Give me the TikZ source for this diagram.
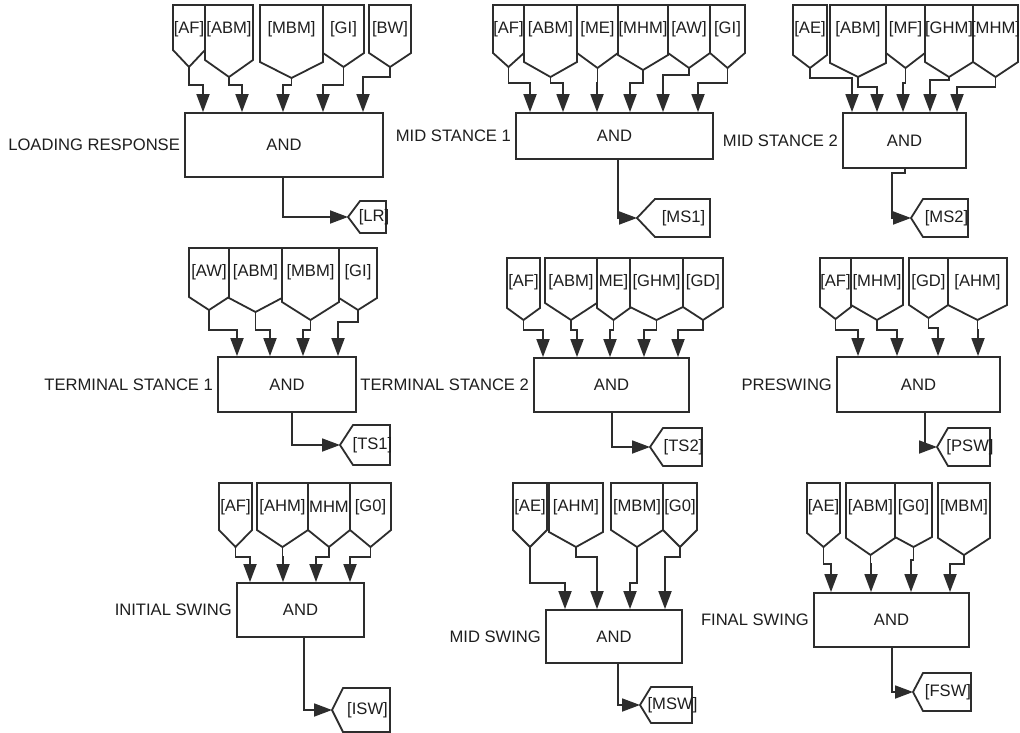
\documentclass[tikz,border=0pt]{standalone}
\usepackage{fontspec}
\setmainfont{Liberation Sans}
\usetikzlibrary{arrows.meta}
\definecolor{ln}{RGB}{45,45,45}
\definecolor{tx}{RGB}{30,30,30}
\tikzset{
  blk/.style={draw=ln, line width=1.8pt, line join=miter},
  lbl/.style={inner sep=0pt, text=tx, font=\fontsize{16.6}{18}\selectfont},
  arr/.style={draw=ln, line width=1.8pt, -{Triangle[length=18pt,width=13pt]}},
  andbox/.style={draw=ln, line width=1.8pt, inner sep=0pt, text=tx, font=\fontsize{16.6}{18}\selectfont},
}
% name, xl, xr, top, sides-bottom, point-y, label
\newcommand\FromBlk[7]{%
  \draw[blk] (#2,#4) -- (#3,#4) -- (#3,#5) -- ({(#2+#3)/2},#6) -- (#2,#5) -- cycle;
  \coordinate (#1) at ({(#2+#3)/2},#6);
  \node[lbl] (#1t) at ({(#2+#3)/2},{#4+24}) {#7};}
% name, point-x, y, vertex-x, right-x, half-height, label
\newcommand\GotoBlk[7]{%
  \draw[blk] (#2,#3) -- (#4,{#3-#6}) -- (#5,{#3-#6}) -- (#5,{#3+#6}) -- (#4,{#3+#6}) -- cycle;
  \coordinate (#1) at (#2,#3);
  \node[lbl] (#1t) at ({(#4+#5)/2+1},#3) {#7};}
% from, jog-y, target-x, box
\newcommand\Inp[4]{\draw[arr] (#1) -- (#1 |- 0,#2) -| (#3,0 |- #4.north);}
\begin{document}
\begin{tikzpicture}[x=1pt,y=-1pt]
\useasboundingbox (0,0) rectangle (1020,733);
\fill[white] (0,0) rectangle (1020,733);

% ---------- Panel 1: LOADING RESPONSE
\node[andbox, minimum width=198pt, minimum height=64pt] (b1) at (284,145) {AND};
\node[lbl, anchor=east] (l1) at ([xshift=-4pt]b1.west) {LOADING RESPONSE};
\FromBlk{p1a}{173}{205}{5}{50}{67}{[AF]}
\FromBlk{p1b}{205}{253}{5}{60}{77}{[ABM]}
\FromBlk{p1c}{260}{323}{5}{62}{78}{[MBM]}
\FromBlk{p1d}{323}{364}{5}{53}{67}{[GI]}
\FromBlk{p1e}{369}{411}{5}{53}{67}{[BW]}
\Inp{p1a}{85}{203}{b1}
\Inp{p1b}{85}{242}{b1}
\Inp{p1c}{85}{283}{b1}
\Inp{p1d}{85}{323}{b1}
\Inp{p1e}{77}{363}{b1}
\GotoBlk{g1}{348}{217}{360}{386}{16}{[LR]}
\draw[arr] (283,0 |- b1.south) |- (g1);

% ---------- Panel 2: MID STANCE 1
\node[andbox, minimum width=197pt, minimum height=46pt] (b2) at (614.5,136) {AND};
\node[lbl, anchor=east] (l2) at ([xshift=-4pt]b2.west) {MID STANCE 1};
\FromBlk{p2a}{493}{524}{5}{53}{67}{[AF]}
\FromBlk{p2b}{524}{577}{5}{62}{77}{[ABM]}
\FromBlk{p2c}{577}{618}{5}{53}{68}{[ME]}
\FromBlk{p2d}{618}{668}{5}{55}{70}{[MHM]}
\FromBlk{p2e}{668}{710}{5}{53}{68}{[AW]}
\FromBlk{p2f}{710}{745}{5}{53}{68}{[GI]}
\Inp{p2a}{83}{530}{b2}
\Inp{p2b}{83}{563}{b2}
\Inp{p2c}{83}{597}{b2}
\Inp{p2d}{83}{630}{b2}
\Inp{p2e}{75}{663}{b2}
\Inp{p2f}{83}{698}{b2}
\GotoBlk{g2}{637}{218}{655}{710}{19}{[MS1]}
\draw[arr] (618,0 |- b2.south) |- (g2);

% ---------- Panel 3: MID STANCE 2
\node[andbox, minimum width=123pt, minimum height=55pt] (b3) at (904.5,140.5) {AND};
\node[lbl, anchor=east] (l3) at ([xshift=-4pt]b3.west) {MID STANCE 2};
\FromBlk{p3a}{793}{827}{5}{55}{68}{[AE]}
\FromBlk{p3b}{830}{886}{5}{63}{77}{[ABM]}
\FromBlk{p3c}{886}{925}{5}{53}{68}{[MF]}
\FromBlk{p3d}{925}{973}{5}{62}{77}{[GHM]}
\FromBlk{p3e}{973}{1018}{5}{62}{77}{[MHM]}
\Inp{p3a}{78}{852}{b3}
\Inp{p3b}{87}{877}{b3}
\Inp{p3c}{83}{903}{b3}
\Inp{p3d}{80}{930}{b3}
\Inp{p3e}{87}{957}{b3}
\GotoBlk{g3}{911}{218}{923}{968}{19}{[MS2]}
\draw[arr] (905,0 |- b3.south) -- (905,173) -| (892,0 |- g3) -- (g3);

% ---------- Panel 4: TERMINAL STANCE 1
\node[andbox, minimum width=138pt, minimum height=55pt] (b4) at (287,384.5) {AND};
\node[lbl, anchor=east] (l4) at ([xshift=-4pt]b4.west) {TERMINAL STANCE 1};
\FromBlk{p4a}{189}{229}{248}{297}{310}{[AW]}
\FromBlk{p4b}{229}{282}{248}{298}{312}{[ABM]}
\FromBlk{p4c}{282}{339}{248}{302}{320}{[MBM]}
\FromBlk{p4d}{339}{377}{248}{298}{310}{[GI]}
\Inp{p4a}{330}{237}{b4}
\Inp{p4b}{330}{270}{b4}
\Inp{p4c}{330}{303}{b4}
\Inp{p4d}{322}{338}{b4}
\GotoBlk{g4}{340}{445}{353}{390}{20}{[TS1]}
\draw[arr] (292,0 |- b4.south) |- (g4);

% ---------- Panel 5: TERMINAL STANCE 2
\node[andbox, minimum width=155pt, minimum height=54pt] (b5) at (611.5,385) {AND};
\node[lbl, anchor=east] (l5) at ([xshift=-4pt]b5.west) {TERMINAL STANCE 2};
\FromBlk{p5a}{507}{540}{258}{308}{320}{[AF]}
\FromBlk{p5b}{545}{597}{258}{303}{320}{[ABM]}
\FromBlk{p5c}{597}{630}{258}{308}{320}{ME]}
\FromBlk{p5d}{630}{683}{258}{307}{320}{[GHM]}
\FromBlk{p5e}{683}{723}{258}{307}{320}{[GD]}
\Inp{p5a}{330}{543}{b5}
\Inp{p5b}{330}{577}{b5}
\Inp{p5c}{330}{610}{b5}
\Inp{p5d}{330}{644}{b5}
\Inp{p5e}{330}{678}{b5}
\GotoBlk{g5}{650}{447}{663}{702}{19}{[TS2]}
\draw[arr] (612,0 |- b5.south) |- (g5);

% ---------- Panel 6: PRESWING
\node[andbox, minimum width=163pt, minimum height=55pt] (b6) at (918.5,384.5) {AND};
\node[lbl, anchor=east] (l6) at ([xshift=-4pt]b6.west) {PRESWING};
\FromBlk{p6a}{820}{851}{258}{307}{319}{[AF]}
\FromBlk{p6b}{851}{903}{258}{305}{320}{[MHM]}
\FromBlk{p6c}{909}{948}{258}{305}{318}{[GD]}
\FromBlk{p6d}{948}{1007}{258}{305}{320}{[AHM]}
\Inp{p6a}{330}{858}{b6}
\Inp{p6b}{330}{897}{b6}
\Inp{p6c}{328}{938}{b6}
\Inp{p6d}{330}{978}{b6}
\GotoBlk{g6}{937}{447}{948}{990}{19}{[PSW]}
\draw[arr] (925,0 |- b6.south) |- (g6);

% ---------- Panel 7: INITIAL SWING
\node[andbox, minimum width=127pt, minimum height=54pt] (b7) at (300.5,610) {AND};
\node[lbl, anchor=east] (l7) at ([xshift=-4pt]b7.west) {INITIAL SWING};
\FromBlk{p7a}{219}{252}{483}{530}{547}{[AF]}
\FromBlk{p7b}{257}{308}{483}{530}{547}{[AHM]}
\FromBlk{p7c}{308}{350}{483}{530}{547}{MHM}
\FromBlk{p7d}{350}{391}{483}{530}{547}{[G0]}
\Inp{p7a}{557}{250}{b7}
\Inp{p7b}{557}{283}{b7}
\Inp{p7c}{557}{316}{b7}
\Inp{p7d}{557}{350}{b7}
\GotoBlk{g7}{332}{710}{343}{390}{22}{[ISW]}
\draw[arr] (304,0 |- b7.south) |- (g7);

% ---------- Panel 8: MID SWING
\node[andbox, minimum width=136pt, minimum height=53pt] (b8) at (614,636.5) {AND};
\node[lbl, anchor=east] (l8) at ([xshift=-4pt]b8.west) {MID SWING};
\FromBlk{p8a}{513}{547}{483}{530}{547}{[AE]}
\FromBlk{p8b}{549}{603}{483}{532}{547}{[AHM]}
\FromBlk{p8c}{611}{663}{483}{530}{547}{[MBM]}
\FromBlk{p8d}{663}{697}{483}{530}{547}{[G0]}
\Inp{p8a}{583}{565}{b8}
\Inp{p8b}{557}{597}{b8}
\Inp{p8c}{583}{630}{b8}
\Inp{p8d}{557}{665}{b8}
\GotoBlk{g8}{640}{705}{651}{692}{18}{[MSW]}
\draw[arr] (618,0 |- b8.south) |- (g8);

% ---------- Panel 9: FINAL SWING
\node[andbox, minimum width=155pt, minimum height=54pt] (b9) at (891.5,620) {AND};
\node[lbl, anchor=east] (l9) at ([xshift=-4pt]b9.west) {FINAL SWING};
\FromBlk{p9a}{807}{840}{483}{533}{547}{[AE]}
\FromBlk{p9b}{846}{895}{483}{538}{555}{[ABM]}
\FromBlk{p9c}{895}{932}{483}{537}{547}{[G0]}
\FromBlk{p9d}{938}{990}{483}{538}{555}{[MBM]}
\Inp{p9a}{564}{831}{b9}
\Inp{p9b}{564}{871}{b9}
\Inp{p9c}{560}{911}{b9}
\Inp{p9d}{564}{950}{b9}
\GotoBlk{g9}{913}{692}{923}{971}{19}{[FSW]}
\draw[arr] (892,0 |- b9.south) |- (g9);
\end{tikzpicture}
\end{document}
